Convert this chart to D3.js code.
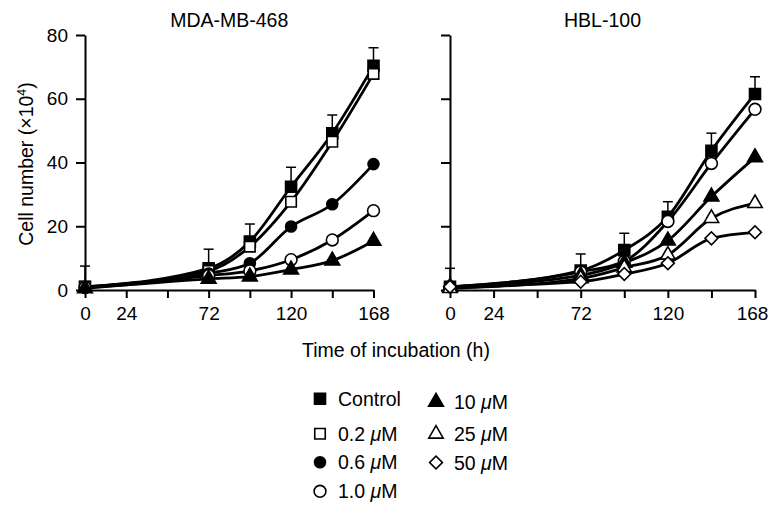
<!DOCTYPE html>
<html><head><meta charset="utf-8">
<script src="https://cdn.jsdelivr.net/npm/d3@7"></script>
<style>
body{margin:0;background:#fff;}
text{font-family:"Liberation Sans",Arial,Helvetica,sans-serif;fill:#000;}
</style></head>
<body><svg id="c" width="770" height="507"></svg>
<script>
// ---- data ----
const times = [0, 72, 96, 120, 144, 168];
const xTickValues = [0, 24, 48, 72, 96, 120, 144, 168];
const xTickLabels = ["0", "24", "", "72", "", "120", "", "168"];
const yTickValues = [0, 20, 40, 60, 80];

const mdaControl = [1, 6.8, 15.2, 32.4, 49.2, 70.3];
const mdaControlSD = [6.5, 6.0, 5.5, 6.1, 5.7, 5.7];
const mda02 = [1, 6.0, 13.6, 27.7, 46.5, 67.8];
const mda06 = [0.8, 5.2, 8.4, 19.9, 26.9, 39.5];
const mda10 = [0.8, 4.5, 6.0, 9.5, 15.7, 24.9];
const mda10uM = [0.5, 3.5, 4.2, 6.4, 9.2, 15.4];

const hblControl = [1, 6.1, 12.5, 23.0, 43.7, 61.5];
const hblControlSD = [5.8, 5.2, 5.3, 4.7, 5.5, 5.4];
const hbl10 = [1, 5.7, 9.0, 21.5, 39.7, 56.7];
const hbl10uM = [1, 4.6, 8.5, 15.5, 29.3, 41.6];
const hbl25uM = [0.5, 3.6, 7.0, 11.0, 22.5, 27.2];
const hbl50uM = [1, 2.6, 5.0, 8.4, 16.2, 18.1];

const legendNames = ["Control", "0.2", "0.6", "1.0", "10", "25", "50"];
const legendSymbols = ["sqF", "sqO", "ciF", "ciO", "trF", "trO", "diO"];

// ---- drawing ----
const svg = d3.select("#c");
const yScale = d3.scaleLinear().domain([0, 80]).range([290, 35]);
const FS = "19.5px";

const symDefs = {
  sqF: {t: d3.symbolSquare, s: 121, fill: "#000", rot: 0},
  sqO: {t: d3.symbolSquare, s: 110, fill: "#fff", rot: 0},
  ciF: {t: d3.symbolCircle, s: 95, fill: "#000", rot: 0},
  ciO: {t: d3.symbolCircle, s: 110, fill: "#fff", rot: 0},
  trF: {t: d3.symbolTriangle, s: 95, fill: "#000", rot: 0},
  trO: {t: d3.symbolTriangle, s: 90, fill: "#fff", rot: 0},
  diO: {t: d3.symbolSquare, s: 82, fill: "#fff", rot: 45}
};
function drawSym(g, key, x, y) {
  const d = symDefs[key];
  g.append("path")
    .attr("d", d3.symbol().type(d.t).size(d.s)())
    .attr("transform", `translate(${x},${y}) rotate(${d.rot})`)
    .attr("fill", d.fill).attr("stroke", "#000").attr("stroke-width", 1.6);
}

function panel(x0, x1, title, series, ctrl, ctrlSD, showYLabels, lastDx) {
  const xScale = d3.scaleLinear().domain([0, 168]).range([x0, x1]);
  const g = svg.append("g");
  const xa = d3.axisBottom(xScale).tickValues(xTickValues)
    .tickFormat((d, i) => xTickLabels[i]).tickSize(8).tickSizeOuter(0).tickPadding(9);
  const gx = g.append("g").attr("transform", "translate(0,290)").call(xa);
  const ya = d3.axisLeft(yScale).tickValues(yTickValues).tickSize(9).tickSizeOuter(0).tickPadding(8)
    .tickFormat(d => showYLabels ? d : "");
  const gy = g.append("g").attr("transform", `translate(${x0},0)`).call(ya);
  [gx, gy].forEach(a => {
    a.selectAll("path,line").attr("stroke", "#000").attr("stroke-width", 2);
    a.selectAll("text").style("font-size", "19px").attr("fill", "#000")
      .style("font-family", "'Liberation Sans',Arial,sans-serif");
  });
  gx.selectAll(".tick text").filter(d => d === 168).attr("dx", lastDx);
  g.append("text").attr("x", (x0 + x1) / 2).attr("y", 27).attr("text-anchor", "middle")
    .style("font-size", FS).text(title);
  const line = d3.line().x((d, i) => xScale(times[i])).y(d => yScale(d)).curve(d3.curveMonotoneX);
  series.forEach(s => {
    g.append("path").attr("d", line(s.v)).attr("fill", "none")
      .attr("stroke", "#000").attr("stroke-width", 2.8);
  });
  ctrl.forEach((v, i) => {
    const x = xScale(times[i]);
    g.append("line").attr("x1", x).attr("x2", x).attr("y1", yScale(v)).attr("y2", yScale(v + ctrlSD[i]))
      .attr("stroke", "#000").attr("stroke-width", 1.5);
    g.append("line").attr("x1", x - 5).attr("x2", x + 5)
      .attr("y1", yScale(v + ctrlSD[i])).attr("y2", yScale(v + ctrlSD[i]))
      .attr("stroke", "#000").attr("stroke-width", 1.5);
  });
  series.forEach(s => {
    s.v.forEach((v, i) => drawSym(g, s.sym, xScale(times[i]), yScale(v)));
  });
}

panel(85, 373.5, "MDA-MB-468", [
  {v: mdaControl, sym: "sqF"}, {v: mda02, sym: "sqO"}, {v: mda06, sym: "ciF"},
  {v: mda10, sym: "ciO"}, {v: mda10uM, sym: "trF"}
], mdaControl, mdaControlSD, true, 0);

panel(450, 755, "HBL-100", [
  {v: hblControl, sym: "sqF"}, {v: hbl10, sym: "ciO"}, {v: hbl10uM, sym: "trF"},
  {v: hbl25uM, sym: "trO"}, {v: hbl50uM, sym: "diO"}
], hblControl, hblControlSD, false, -3);

svg.append("text").attr("transform", "translate(33,164) rotate(-90)").attr("text-anchor", "middle")
  .style("font-size", FS)
  .call(t => {
    t.append("tspan").text("Cell number (×10");
    t.append("tspan").attr("dy", -7).style("font-size", "12.5px").text("4");
    t.append("tspan").attr("dy", 7).text(")");
  });
svg.append("text").attr("x", 396).attr("y", 357).attr("text-anchor", "middle")
  .style("font-size", FS).text("Time of incubation (h)");

const legPos = [[320, 398.7], [320, 433.7], [320, 462.3], [320, 491.3], [436, 402], [436, 434], [436, 462.5]];
const lg = svg.append("g");
legendNames.forEach((n, i) => {
  const [lx, ly] = legPos[i];
  drawSym(lg, legendSymbols[i], lx, ly);
  const t = lg.append("text").attr("x", lx + 18).attr("y", ly + 7).style("font-size", FS);
  if (n === "Control") { t.text(n); }
  else {
    t.append("tspan").text(n + " ");
    t.append("tspan").style("font-style", "italic").text("μ");
    t.append("tspan").text("M");
  }
});
</script></body></html>
